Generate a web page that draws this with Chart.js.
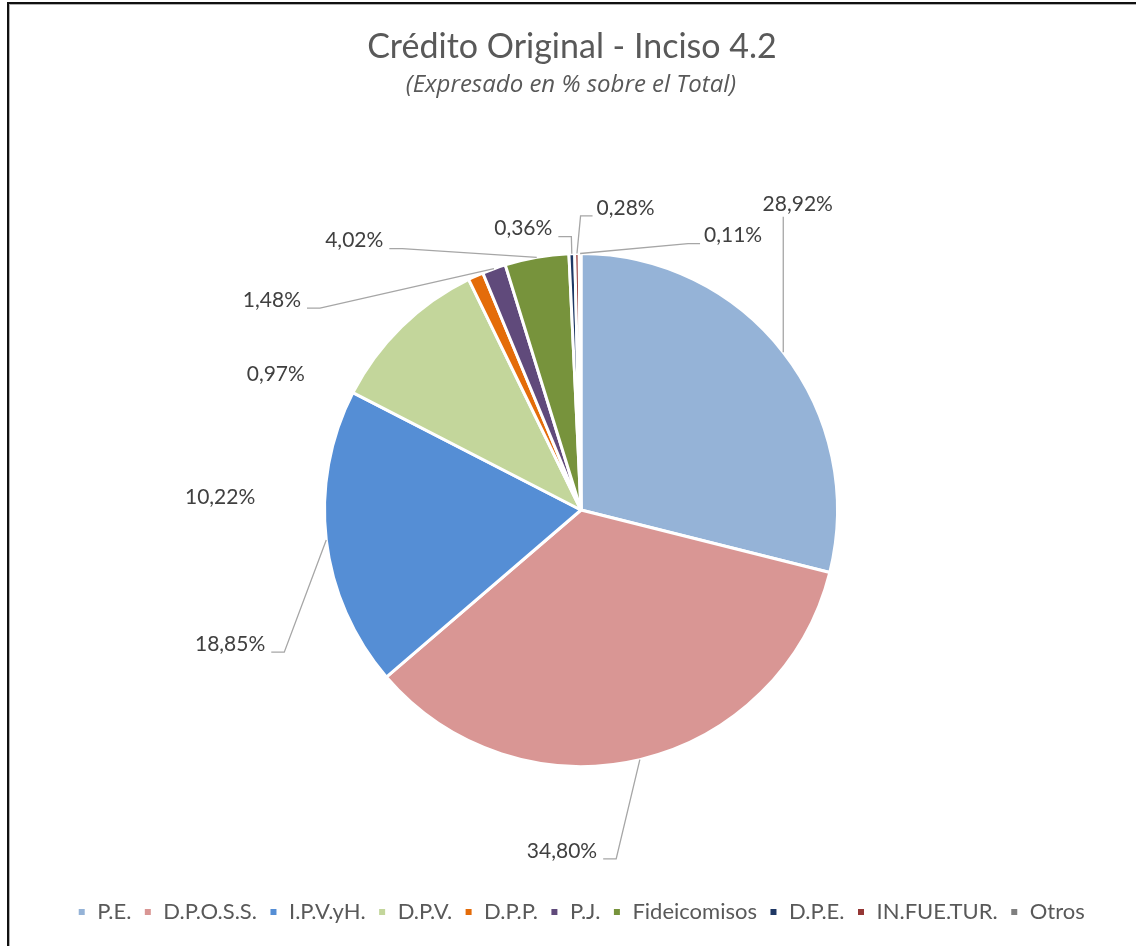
<!DOCTYPE html>
<html><head><meta charset="utf-8">
<script src="https://cdn.jsdelivr.net/npm/chart.js@4.4.1/dist/chart.umd.min.js"></script>
<style>
html,body{margin:0;padding:0;background:#fff;}
#wrap{position:relative;width:1136px;height:946px;overflow:hidden;}
#frame{position:absolute;left:7px;top:2px;width:1200px;height:1000px;border-left:2px solid #111;border-top:2px solid #111;box-shadow: inset 1px 1px 0 #b0b0b0;pointer-events:none;}
canvas{position:absolute;left:0;top:0;}
</style></head><body>
<div id="wrap"><canvas id="c" width="1136" height="946"></canvas><div id="frame"></div></div>
<script>
// ---- data ----
const categories = ['P.E.', 'D.P.O.S.S.', 'I.P.V.yH.', 'D.P.V.', 'D.P.P.', 'P.J.', 'Fideicomisos', 'D.P.E.', 'IN.FUE.TUR.', 'Otros'];
const values = [28.92, 34.80, 18.85, 10.22, 0.97, 1.48, 4.02, 0.36, 0.28, 0.11];
const colors = ['#95B3D7', '#D99694', '#558ED5', '#C3D69B', '#E46C0A', '#604A7B', '#77933C', '#1F3864', '#953735', '#7F7F7F'];
const titleText = 'Crédito Original - Inciso 4.2';
const subtitleText = '(Expresado en % sobre el Total)';

// ---- label layout (relative to pie centre, in units of radius) ----
const labelPlacement = [[0.845,-1.194],[-0.074,1.329],[-1.368,0.523],[-1.407,-0.050],[-1.190,-0.531],[-1.205,-0.818],[-0.884,-1.050],[-0.225,-1.097],[0.174,-1.178],[0.593,-1.070]];
const leaderShown = [true,true,true,false,false,true,true,true,true,true];

const fmt = v => v.toFixed(2).replace('.', ',') + '%';

const headerPlugin = {
  id: 'header',
  afterDraw(chart) {
    const ctx = chart.ctx;
    ctx.save();
    ctx.textAlign = 'center';
    ctx.textBaseline = 'middle';
    ctx.fillStyle = '#595959';
    ctx.font = '34px Lato';
    ctx.fillText(titleText, chart.width / 2 + 4, 47);
    ctx.font = 'italic 24px "Open Sans"';
    ctx.fillText(subtitleText, chart.width / 2 + 3, 85);
    ctx.restore();
  }
};

const labelPlugin = {
  id: 'sliceLabels',
  afterDatasetsDraw(chart) {
    const ctx = chart.ctx;
    const meta = chart.getDatasetMeta(0);
    ctx.save();
    ctx.font = '21px Lato';
    ctx.textAlign = 'center';
    ctx.textBaseline = 'middle';
    meta.data.forEach((arc, i) => {
      const p = arc.getProps(['x','y','startAngle','endAngle','outerRadius'], true);
      const mid = (p.startAngle + p.endAngle) / 2;
      const ax = p.x + Math.cos(mid) * p.outerRadius;
      const ay = p.y + Math.sin(mid) * p.outerRadius;
      const lx = p.x + labelPlacement[i][0] * p.outerRadius;
      const ly = p.y + labelPlacement[i][1] * p.outerRadius;
      const text = fmt(values[i]);
      const w = ctx.measureText(text).width;
      if (leaderShown[i]) {
        ctx.beginPath();
        ctx.strokeStyle = '#a6a6a6';
        ctx.lineWidth = 1.3;
        if (ax > lx - w / 2 && ax < lx + w / 2) {
          ctx.moveTo(ax, ly + 13);
          ctx.lineTo(ax, ay);
        } else if (ax > lx) {
          const sx = lx + w / 2 + 6;
          ctx.moveTo(sx, ly + 8);
          ctx.lineTo(sx + 13, ly + 8);
          ctx.lineTo(ax, ay);
        } else {
          const sx = lx - w / 2 - 4;
          ctx.moveTo(sx, ly + 8);
          ctx.lineTo(sx - 12, ly + 8);
          ctx.lineTo(ax, ay);
        }
        ctx.stroke();
      }
      ctx.fillStyle = '#404040';
      ctx.fillText(text, lx, ly);
    });
    ctx.restore();
  }
};

new Chart(document.getElementById('c'), {
  type: 'pie',
  data: {
    labels: categories,
    datasets: [{
      data: values,
      backgroundColor: colors,
      borderColor: '#ffffff',
      borderWidth: 3,
      hoverOffset: 0
    }]
  },
  options: {
    responsive: false,
    animation: false,
    layout: { padding: { left: 26, right: 0, top: 252, bottom: 13 } },
    plugins: {
      tooltip: { enabled: false },
      title: { display: false },
      legend: {
        position: 'bottom',
        title: { display: true, text: '', font: { size: 10 }, padding: { top: 109, bottom: 0 } },
        labels: {
          font: { family: 'Lato', size: 22 },
          color: '#595959',
          boxWidth: 9,
          boxHeight: 9,
          padding: 12
        }
      }
    }
  },
  plugins: [headerPlugin, labelPlugin]
});
</script>
</body></html>
